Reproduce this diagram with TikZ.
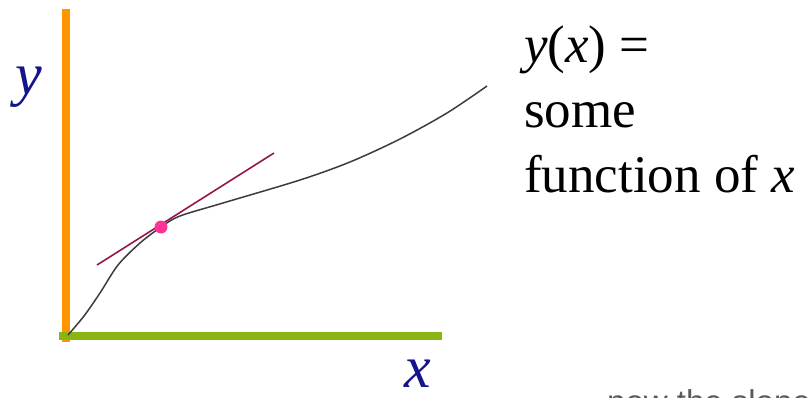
\documentclass[tikz,border=0pt]{standalone}
\usepackage{fontspec}
\setmainfont{Liberation Serif}
\newfontfamily\sansf{Liberation Sans}
\definecolor{axisorange}{RGB}{255,150,0}
\definecolor{axisgreen}{RGB}{140,180,20}
\definecolor{navy}{RGB}{20,20,140}
\definecolor{tangent}{RGB}{150,20,80}
\definecolor{dotpink}{RGB}{255,51,150}
\definecolor{curvegray}{RGB}{60,60,60}
\definecolor{notegray}{RGB}{90,90,90}
\begin{document}
\begin{tikzpicture}[x=1pt,y=-1pt,
  axislabel/.style={font=\fontsize{60}{60}\selectfont\itshape, text=navy, inner sep=0pt, anchor=base west},
  bigtext/.style={font=\fontsize{53}{53}\selectfont, text=black, inner sep=0pt, anchor=base west},
  note/.style={font=\sansf\fontsize{33}{33}\selectfont, text=notegray, inner sep=0pt, anchor=base west}]
\useasboundingbox (0,0) rectangle (810,397);
\clip (0,0) rectangle (810,397);
% axes
\coordinate (ytop) at (66,9);
\coordinate (ybot) at (66,342);
\coordinate (xleft) at (59,336);
\coordinate (xright) at (442,336);
\draw[axisorange, line width=7.5pt] (ytop) -- (ybot);
\draw[axisgreen, line width=8pt] (xleft) -- (xright);
% curve
\draw[curvegray, line width=1.5pt] plot[smooth, tension=0.5] coordinates {
 (68,335) (84,316) (100,293) (118,265) (140,243) (161,227) (180,216) (223,203)
 (300,180) (350,162) (400,139) (447,113) (487,86)};
% tangent
\coordinate (t1) at (97,265);
\coordinate (t2) at (274,153);
\draw[tangent, line width=1.6pt] (t1) -- (t2);
\node[circle, fill=dotpink, minimum size=13pt, inner sep=0pt] (pt) at (161,227) {};
% labels
\node[axislabel] (ylab) at (15,94) {y};
\node[axislabel] (xlab) at (404,387) {x};
\node[bigtext] (l1) at (524,62) {\textit{y}(\textit{x}) =};
\node[bigtext] (l2) at (524,127) {some};
\node[bigtext] (l3) at (524,192) {function of \textit{x}};
\node[note] (nt) at (607,413) {now the slope};
\end{tikzpicture}
\end{document}
